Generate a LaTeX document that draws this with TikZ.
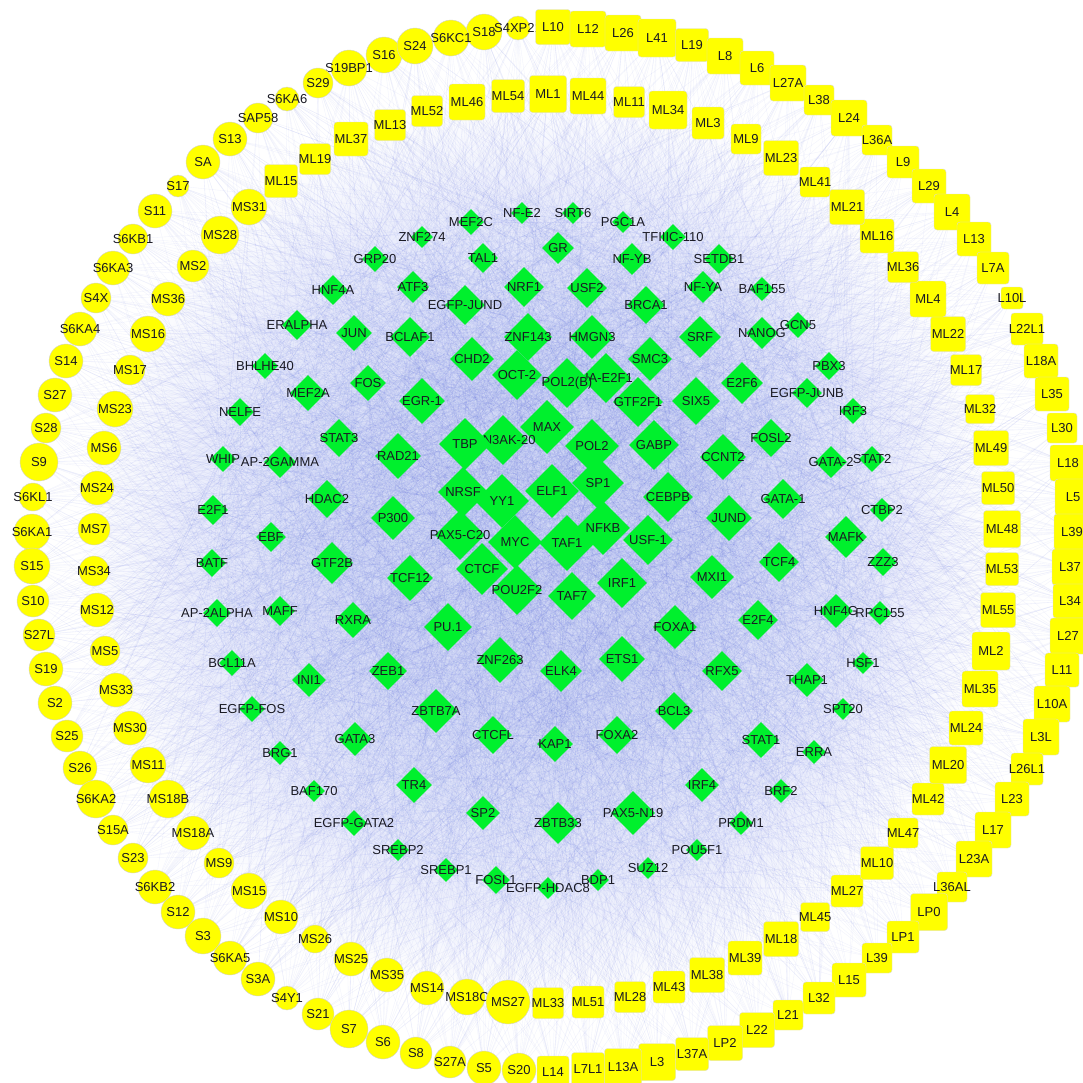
\documentclass[tikz,border=0pt]{standalone}
\usepackage{fontspec}
\setmainfont{Liberation Sans}
\usetikzlibrary{shapes.geometric,backgrounds}
\definecolor{ylw}{RGB}{255,255,0}
\definecolor{grn}{RGB}{0,240,45}
\definecolor{edgeblue}{RGB}{70,90,225}
\definecolor{txt}{RGB}{25,25,35}
\definecolor{bgA}{RGB}{214,220,247}
\definecolor{bgB}{RGB}{234,237,252}
\pgfdeclareradialshading{haze}{\pgfpoint{0bp}{0bp}}{color(0bp)=(bgA); color(9bp)=(bgA); color(18bp)=(bgB); color(24bp)=(white); color(50bp)=(white)}
\def\clist{S16/384/55/36, S18/484/32/36, S6KC1/451/38/36, S24/415/46/36, S4XP21/518/28/24, S19BP1/349/68/36, S29/318/83/30, S6KA6/287/99/24, SAP58/258/118/30, S13/230/139/34, SA/203/162/34, S17/178/186/22, S11/155/211/34, S6KB1/133/239/30, S6KA3/113/268/34, S4X/96/298/30, S6KA4/80/329/34, S14/66/361/34, S27/55/395/34, S28/46/428/30, S9/39/462/38, S6KL1/33/497/28, S6KA1/32/532/36, S15/32/566/36, S10/33/601/32, S27L/39/635/32, S19/46/669/34, S2/55/703/34, S25/67/736/32, S26/80/768/34, S6KA2/96/799/38, S15A/113/830/30, S23/133/858/30, S6KB2/155/887/34, S12/178/912/34, S3/203/936/36, S6KA5/230/958/34, S3A/258/979/34, S4Y1/287/998/24, S21/318/1014/32, S7/349/1029/38, S6/383/1042/34, S8/416/1053/32, S27A/450/1062/32, S5/484/1068/34, S20/519/1070/34,
MS31/249/207/36, MS28/220/235/38, MS2/193/266/32, MS36/168/299/34, MS16/148/334/36, MS17/130/370/30, MS23/115/409/36, MS6/104/448/34, MS24/97/488/34, MS7/94/529/32, MS34/94/571/30, MS12/97/610/34, MS5/105/651/30, MS33/116/690/34, MS30/130/728/34, MS11/148/765/36, MS18B/168/799/38, MS18A/193/833/34, MS9/219/863/30, MS15/249/891/36, MS10/281/917/34, MS26/315/939/28, MS25/351/959/34, MS35/387/975/34, MS14/427/988/34, MS18C/467/997/36, MS27/508/1002/44}
\def\qlist{L10/553/27/35, L12/588/29/36, L26/623/33/36, L41/657/38/38, L19/692/45/33, L8/725/56/36, L6/757/68/34, L27A/788/83/36, L38/819/100/30, L24/849/118/36, L36A/877/140/30, L9/903/162/32, L29/929/186/34, L4/952/212/36, L13/974/239/34, L7A/993/268/32, L10L/1012/298/22, L22L1/1027/329/32, L18A/1041/361/34, L35/1052/394/34, L30/1062/428/30, L18/1068/463/36, L5/1073/497/36, L39/1072/532/36, L37/1070/567/36, L34/1070/601/34, L27/1068/636/36, L11/1062/670/34, L10A/1052/704/36, L3L/1041/737/36, L26L1/1027/769/32, L23/1012/799/34, L17/993/830/36, L23A/974/859/36, L36AL/952/887/30, LP0/929/912/37, LP1/903/937/32, L39/877/958/30, L15/849/980/34, L32/819/998/32, L21/788/1015/30, L22/757/1030/35, LP2/725/1043/35, L37A/692/1054/33, L3/657/1062/37, L13A/623/1067/37, L7L1/588/1069/33, L14/553/1072/32,
ML33/548/1003/31, ML51/588/1002/32, ML28/630/997/31, ML43/669/987/32, ML38/707/975/35, ML39/745/958/34, ML18/781/939/35, ML45/815/917/29, ML27/847/891/32, ML10/877/863/33, ML47/903/833/30, ML42/928/799/32, ML20/948/765/37, ML24/966/728/34, ML35/980/689/36, ML2/991/651/38, ML55/998/610/35, ML53/1002/569/33, ML48/1002/529/37, ML50/998/488/33, ML49/991/448/35, ML32/980/409/29, ML17/966/370/31, ML22/948/334/35, ML4/928/299/36, ML36/903/267/31, ML16/877/236/34, ML21/847/207/35, ML41/815/182/30, ML23/781/158/35, ML9/746/139/30, ML3/708/123/32, ML34/668/110/38, ML11/629/102/31, ML44/588/96/36, ML1/548/94/37, ML54/508/96/33, ML46/467/102/36, ML52/427/111/31, ML13/390/125/31, ML37/351/139/34, ML19/315/159/31, ML15/281/181/33}
\def\glist{MEF2C/471/222/13, NF-E2/522/213/11, SIRT6/573/213/11, PGC1A/623/222/11, ZNF274/422/237/11, TFIIIC-110/673/237/13, GR/558/248/16, TAL1/483/258/15, NF-YB/632/259/16, SETDB1/719/259/15, GRP20/375/259/13, ATF3/413/287/16, NRF1/524/287/20, USF2/587/288/20, NF-YA/703/287/16, BAF155/762/289/12, HNF4A/333/290/15, EGFP-JUND/465/305/20, BRCA1/646/305/19, ERALPHA/297/325/15, JUN/354/333/18, BCLAF1/410/337/20, ZNF143/528/337/24, HMGN3/592/337/22, SRF/700/337/21, NANOG/762/333/16, GCN5/798/325/13, CHD2/472/359/22, SMC3/650/359/22, BHLHE40/265/366/13, PBX3/829/366/14, OCT-2/517/375/25, HA-E2F1/606/378/25, POL2(B)/567/383/25, FOS/368/383/18, E2F6/742/383/21, MEF2A/308/393/18, EGFP-JUNB/807/393/15, EGR-1/422/401/23, GTF2F1/638/402/25, SIX5/696/401/24, NELFE/240/412/14, IRF3/853/411/13, MAX/547/427/27, FOSL2/771/438/19, STAT3/339/438/19, SIN3AK-20/503/440/25, TBP/465/444/26, POL2/592/446/27, GABP/654/445/25, RAD21/398/456/23, CCNT2/723/457/23, WHIP/223/459/13, AP-2GAMMA/280/462/16, GATA-2/831/462/16, STAT2/872/459/13, SP1/598/483/26, NRSF/463/492/25, ELF1/552/491/27, CEBPB/668/497/25, HDAC2/327/499/19, GATA-1/783/499/20, YY1/502/501/27, E2F1/213/510/15, CTBP2/882/510/12, P300/393/518/22, JUND/729/518/23, NFKB/603/528/27, EBF/271/537/15, PAX5-C20/460/535/25, MAFK/846/537/21, USF-1/648/540/25, MYC/515/542/27, TAF1/567/543/28, BATF/212/563/14, GTF2B/332/563/21, TCF4/779/562/20, ZZZ3/883/562/14, CTCF/482/569/26, MXI1/712/577/22, TCF12/410/578/23, IRF1/622/583/25, POU2F2/517/590/25, TAF7/572/596/24, HNF4G/836/611/17, MAFF/280/611/15, AP-2ALPHA/217/613/14, RPC155/880/613/12, E2F4/758/620/20, RXRA/353/620/18, PU.1/448/627/24, FOXA1/675/627/22, ETS1/622/659/23, ZNF263/500/660/23, BCL11A/232/663/13, HSF1/863/663/11, ELK4/561/671/21, ZEB1/388/671/19, RFX5/722/671/20, INI1/309/680/17, THAP1/807/680/17, EGFP-FOS/252/709/13, SPT20/843/709/11, BCL3/674/711/19, ZBTB7A/436/711/22, CTCFL/493/735/19, FOXA2/617/735/19, GATA3/355/739/17, STAT1/761/740/18, KAP1/555/744/18, ERRA/814/752/12, BRG1/280/753/12, TR4/414/785/18, IRF4/702/785/17, BAF170/314/791/11, BRF2/781/791/12, SP2/483/813/17, PAX5-N19/633/813/22, EGFP-GATA2/354/823/13, ZBTB33/558/823/21, PRDM1/741/823/12, SREBP2/398/850/11, POU5F1/697/850/11, SUZ12/648/868/11, SREBP1/446/870/12, FOSL1/496/880/14, BDP1/598/880/11, EGFP-HDAC8/548/888/11}
\begin{document}
\begin{tikzpicture}[x=1pt,y=-1pt,
  lbl/.style={font=\fontsize{13}{13}\selectfont, text=txt, inner sep=0pt},
  scirc/.style={circle, fill=ylw, draw=black!18, line width=0.4pt, inner sep=0pt},
  lsq/.style={rectangle, rounded corners=3pt, fill=ylw, draw=black!15, line width=0.4pt, inner sep=0pt},
  gdia/.style={diamond, fill=grn, draw=none, inner sep=0pt},
  edge/.style={draw=edgeblue, opacity=0.075, line width=0.35pt}]
\useasboundingbox (0,0) rectangle (1083,1082);
% circles (outer S ring and MS ring)
\foreach \nm/\x/\y/\d [count=\i] in \clist {
  \node[scirc, minimum size=\d pt] (c\i) at (\x,\y) {};
  \node[lbl] at (c\i) {\nm};
  \xdef\nC{\i}
}
% squares (outer L ring and ML ring)
\foreach \nm/\x/\y/\d [count=\i] in \qlist {
  \node[lsq, minimum size=\d pt] (q\i) at (\x,\y) {};
  \node[lbl] at (q\i) {\nm};
  \xdef\nQ{\i}
}
% green diamonds
\foreach \nm/\x/\y/\h [count=\i] in \glist {
  \node[gdia, minimum size=2*\h pt] (g\i) at (\x,\y) {};
  \node[lbl] at (g\i) {\nm};
  \xdef\nG{\i}
}
\begin{pgfonlayer}{background}
  \fill[white] (0,0) rectangle (1083,1082);
  \shade[shading=haze] (541,548) circle[radius=480pt];
  \foreach \i in {1,...,\nC}{\foreach \j in {1,...,\nG}{%
    \ifnum\numexpr(5*\i+\j)-((5*\i+\j)/6)*6\relax=0 \draw[edge] (c\i) -- (g\j);\fi}}
  \foreach \i in {1,...,\nQ}{\foreach \j in {1,...,\nG}{%
    \ifnum\numexpr(5*\i+\j+3)-((5*\i+\j+3)/6)*6\relax=0 \draw[edge] (q\i) -- (g\j);\fi}}
  \foreach \j in {1,...,\nG}{\foreach \k in {\j,...,\nG}{%
    \ifnum\k>\j \ifnum\numexpr(\j+2*\k)-((\j+2*\k)/9)*9\relax=0 \draw[edge] (g\j) -- (g\k);\fi\fi}}
\end{pgfonlayer}
\end{tikzpicture}
\end{document}
